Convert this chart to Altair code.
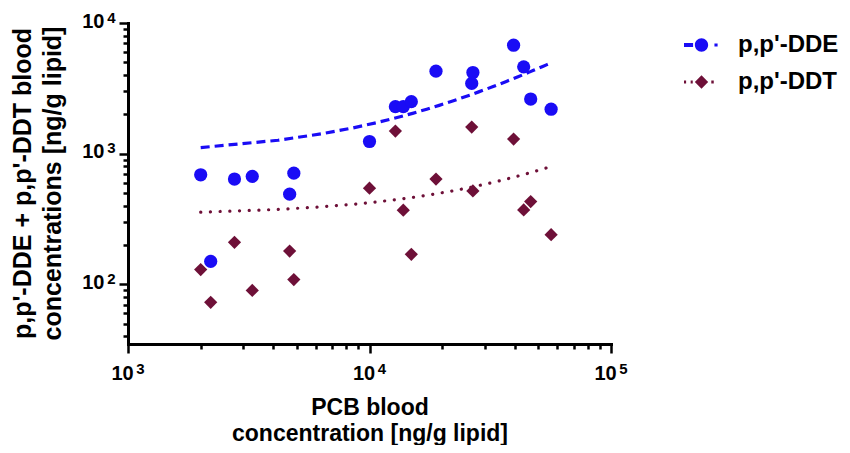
import altair as alt
import pandas as pd

# ---- data ----
DDE = "p,p'-DDE"
DDT = "p,p'-DDT"
pcb = [2000, 2200, 2760, 3270, 4670, 4860, 10000, 12800, 13800, 14900,
       18850, 26500, 26800, 39500, 43500, 46500, 56500]
dde = [690, 150, 640, 670, 490, 710, 1240, 2290, 2290, 2500,
       4280, 3450, 4180, 6760, 4620, 2620, 2190]
ddt = [130, 73, 210, 90, 180, 109, 545, 1490, 370, 170,
       640, 1600, 519, 1294, 371, 430, 240]

# tick values
x_major = [1000, 10000, 100000]
x_minor = [2000, 3000, 4000, 5000, 6000, 7000, 8000, 9000,
           20000, 30000, 40000, 50000, 60000, 70000, 80000, 90000]
y_major = [100, 1000, 10000]
y_minor = [40, 50, 60, 70, 80, 90,
           200, 300, 400, 500, 600, 700, 800, 900,
           2000, 3000, 4000, 5000, 6000, 7000, 8000, 9000]

BLUE = "#1a0cf5"
MAROON = "#6e1038"
FONT = "Liberation Sans"

df = pd.DataFrame({
    "pcb": pcb + pcb,
    "series": [DDE] * len(pcb) + [DDT] * len(pcb),
    "value": dde + ddt,
})

xscale = alt.Scale(type="log", domain=[1000, 100000], nice=False)
yscale = alt.Scale(type="log", domain=[35, 10000], nice=False)

common = dict(grid=False, labelFont=FONT, labelFontWeight="bold", labelColor="black",
              tickColor="black", labelOverlap=False)

ax_x_major = alt.Axis(orient="bottom", values=x_major, tickSize=9, tickWidth=2.5,
                      domainColor="black", domainWidth=3, domainCap="square",
                      labelExpr="'10'", labelFontSize=20, labelPadding=10, labelOffset=-6,
                      labelAlign="center", labelBaseline="top", labelFlush=False,
                      title=["PCB blood", "concentration [ng/g lipid]"],
                      titleFont=FONT, titleFontSize=23, titleFontWeight="bold",
                      titleColor="black", titleLineHeight=26, titleY=52,
                      titleBaseline="top", **common)
ax_x_minor = alt.Axis(orient="bottom", values=x_minor, tickSize=5, tickWidth=2.5,
                      labels=False, domain=False, title=None, **common)
ax_x_exp = alt.Axis(orient="bottom", values=x_major, ticks=False, tickSize=0, domain=False,
                    labelExpr="'' + round(log(datum.value) / LN10)", labelFontSize=15,
                    labelPadding=17, labelOffset=12, labelAlign="center",
                    labelBaseline="top", labelFlush=False, title=None, **common)

ax_y_major = alt.Axis(orient="left", values=y_major, tickSize=9, tickWidth=2.5,
                      domainColor="black", domainWidth=3, domainCap="square",
                      labelExpr="'10'", labelFontSize=20, labelPadding=15, labelOffset=-2,
                      labelAlign="right", labelBaseline="middle", labelFlush=False,
                      title=["p,p'-DDE + p,p'-DDT blood", "concentrations [ng/g lipid]"],
                      titleFont=FONT, titleFontSize=25, titleFontWeight="bold",
                      titleColor="black", titleLineHeight=30, titleAngle=270,
                      titleX=-118, titleY=160, titleBaseline="top", titleAlign="center",
                      **common)
ax_y_minor = alt.Axis(orient="left", values=y_minor, tickSize=5, tickWidth=2.5,
                      labels=False, domain=False, title=None, **common)
ax_y_exp = alt.Axis(orient="left", values=y_major, ticks=False, tickSize=0, domain=False,
                    labelExpr="'' + round(log(datum.value) / LN10)", labelFontSize=15,
                    labelPadding=13, labelOffset=-6, labelAlign="right",
                    labelBaseline="middle", labelFlush=False, title=None, **common)

base = alt.Chart(df)
is_dde = alt.FieldEqualPredicate(field="series", equal=DDE)
is_ddt = alt.FieldEqualPredicate(field="series", equal=DDT)

dde_line = base.transform_filter(is_dde).transform_regression(
    "pcb", "value", method="poly", order=1
).mark_line(color=BLUE, strokeWidth=3.2, strokeDash=[9, 5]).encode(
    x=alt.X("pcb:Q", scale=xscale, axis=ax_x_minor),
    y=alt.Y("value:Q", scale=yscale, axis=ax_y_minor),
)

ddt_line = base.transform_filter(is_ddt).transform_regression(
    "pcb", "value", method="poly", order=1
).mark_line(color=MAROON, strokeWidth=3.2, strokeDash=[0.1, 9.6], strokeCap="round").encode(
    x=alt.X("pcb:Q", scale=xscale, axis=ax_x_exp),
    y=alt.Y("value:Q", scale=yscale, axis=ax_y_exp),
)

dde_pts = base.transform_filter(is_dde).mark_point(
    shape="circle", filled=True, size=175, color=BLUE, opacity=1
).encode(
    x=alt.X("pcb:Q", scale=xscale, axis=ax_x_major),
    y=alt.Y("value:Q", scale=yscale, axis=ax_y_major),
)

ddt_pts = base.transform_filter(is_ddt).mark_point(
    shape="diamond", filled=True, size=175, color=MAROON, opacity=1
).encode(
    x=alt.X("pcb:Q", scale=xscale, axis=None),
    y=alt.Y("value:Q", scale=yscale, axis=None),
)

# legend symbols: line segment + marker
DDE_SYM = ("M-1,-0.12H-0.48V0.12H-1Z "
           "M-0.38,0A0.38,0.38,0,1,0,0.38,0A0.38,0.38,0,1,0,-0.38,0Z "
           "M0.74,-0.09H0.92V0.09H0.74Z")
DDT_SYM = ("M-1,-0.08H-0.88V0.08H-1Z "
           "M-0.62,-0.08H-0.5V0.08H-0.62Z "
           "M-0.38,0L0,-0.38L0.38,0L0,0.38Z "
           "M0.56,-0.08H0.7V0.08H0.56Z")

leg = alt.Legend(title=None, orient="none", legendX=556, legendY=4.5,
                 symbolSize=1225, symbolStrokeWidth=0, symbolOpacity=1,
                 labelFont=FONT, labelFontSize=24, labelFontWeight="bold",
                 labelColor="black", labelOffset=19, rowPadding=7, padding=0,
                 labelBaseline="middle")

legend_layer = base.transform_filter("false").mark_point(filled=True, opacity=1).encode(
    color=alt.Color("series:N", scale=alt.Scale(domain=[DDE, DDT], range=[BLUE, MAROON]),
                    legend=leg),
    shape=alt.Shape("series:N", scale=alt.Scale(domain=[DDE, DDT], range=[DDE_SYM, DDT_SYM]),
                    legend=leg),
)

chart = alt.layer(dde_line, ddt_line, dde_pts, ddt_pts, legend_layer).resolve_axis(
    x="independent", y="independent"
).properties(
    width=483, height=321,
    autosize=alt.AutoSizeParams(type="none"),
    padding={"left": 120, "top": 15, "right": 231, "bottom": 101},
).configure_view(stroke=None)

chart.save("out.html", embed_options={"renderer": "svg", "actions": False})
